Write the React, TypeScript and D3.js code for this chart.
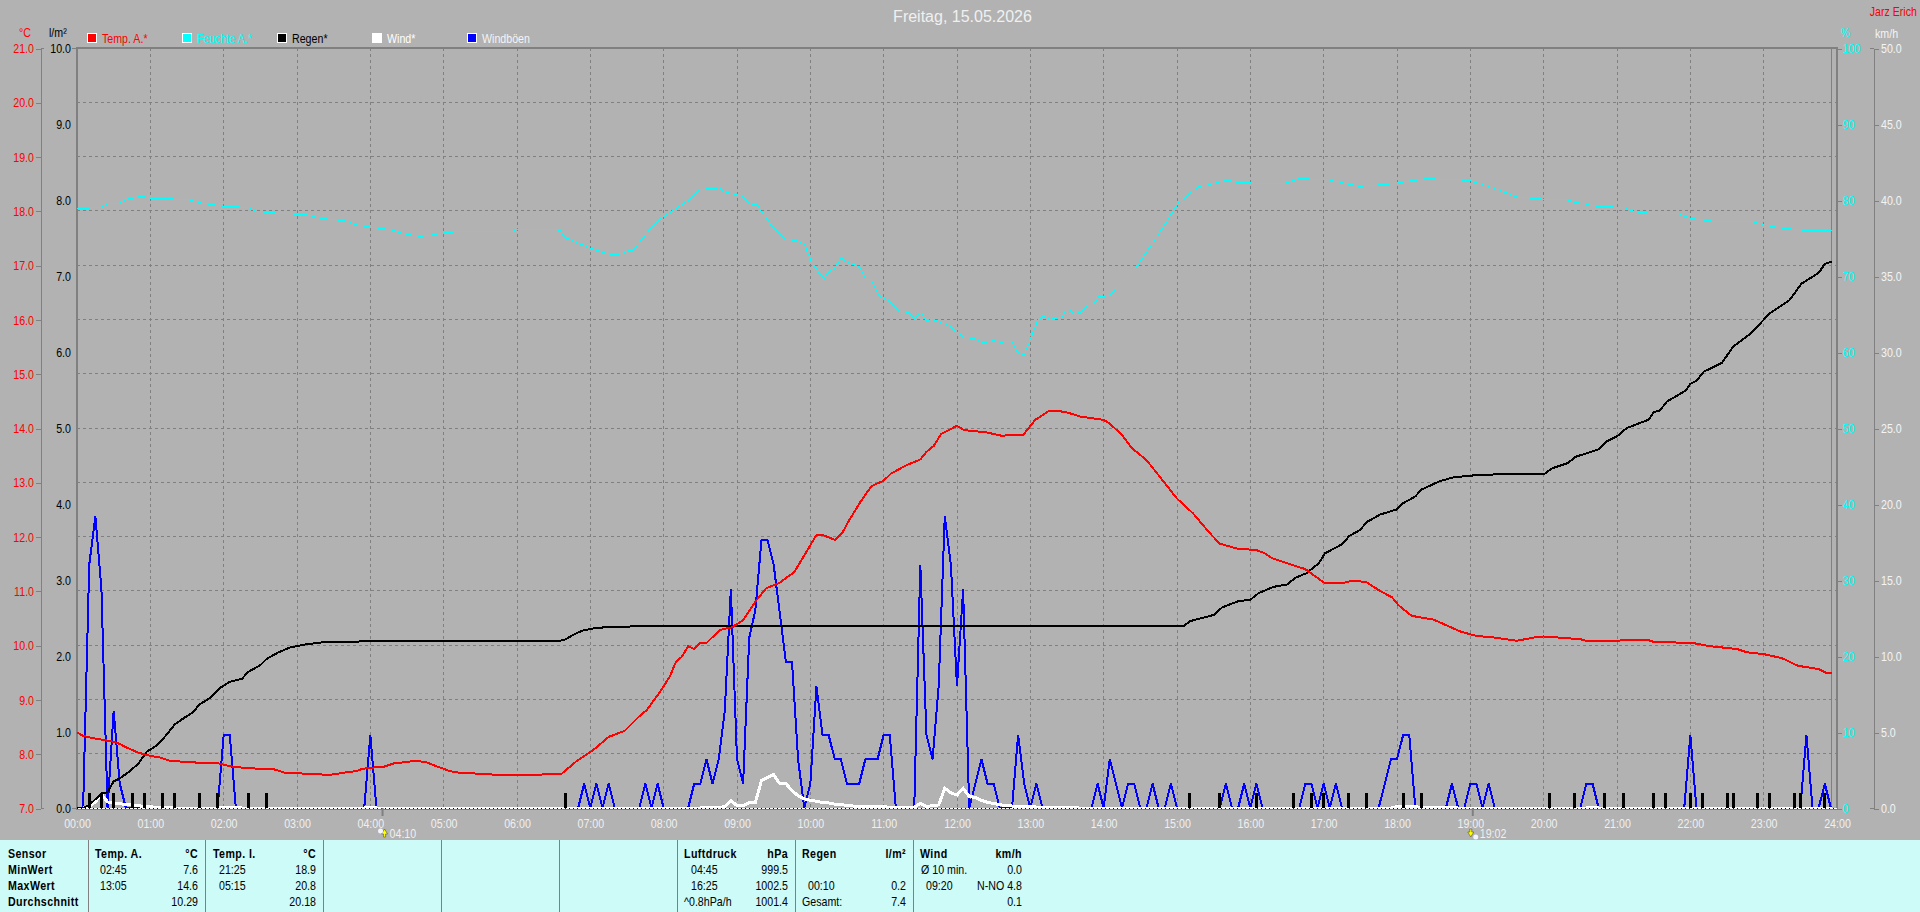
import * as d3 from "d3";
import { useEffect, useRef } from "react";

type Pt = [number, number];

const W = 1920;
const H = 912;
const FONT = "'Liberation Sans', Arial, sans-serif";
const SQUEEZE = 0.82; // the reference font is tall and narrow

// every series: [minute of day, value]
const tempA: Pt[] = [
  [0, 8.39], [5, 8.33], [10, 8.3], [20, 8.26], [30, 8.22], [35, 8.18], [40, 8.12], [50, 8.02], [60, 7.96], [68, 7.93],
  [76, 7.87], [88, 7.85], [103, 7.83], [116, 7.82], [125, 7.77], [140, 7.73], [160, 7.72], [170, 7.65], [189, 7.63],
  [207, 7.61], [221, 7.66], [229, 7.68], [233, 7.72], [240, 7.74], [251, 7.76], [259, 7.82], [270, 7.85], [278, 7.87],
  [286, 7.84], [294, 7.77], [305, 7.68], [313, 7.65], [330, 7.63], [345, 7.61], [396, 7.62], [408, 7.85], [423, 8.08],
  [435, 8.31], [448, 8.42], [461, 8.71], [466, 8.8], [477, 9.14], [485, 9.42], [490, 9.69], [495, 9.79], [500, 9.98],
  [505, 9.93], [510, 10.04], [515, 10.04], [526, 10.28], [536, 10.33], [545, 10.46], [556, 10.83], [564, 11.05],
  [575, 11.15], [587, 11.35], [596, 11.69], [605, 12.03], [610, 12.03], [620, 11.94], [626, 12.06], [631, 12.27],
  [641, 12.64], [650, 12.93], [660, 13.03], [666, 13.16], [679, 13.32], [690, 13.42], [695, 13.56], [701, 13.67],
  [707, 13.89], [720, 14.04], [726, 13.96], [744, 13.92], [756, 13.86], [774, 13.87], [784, 14.15], [795, 14.31],
  [804, 14.31], [811, 14.28], [821, 14.21], [840, 14.15], [845, 14.08], [855, 13.87], [863, 13.63], [875, 13.41],
  [886, 13.1], [900, 12.7], [913, 12.43], [927, 12.06], [935, 11.87], [949, 11.78], [965, 11.75], [971, 11.7],
  [978, 11.6], [990, 11.51], [1005, 11.4], [1021, 11.14], [1035, 11.14], [1044, 11.19], [1055, 11.16], [1066, 11.0],
  [1076, 10.88], [1081, 10.74], [1092, 10.54], [1110, 10.47], [1132, 10.25], [1145, 10.17], [1160, 10.14],
  [1178, 10.08], [1192, 10.14], [1200, 10.16], [1230, 10.11], [1235, 10.08], [1286, 10.09], [1290, 10.06],
  [1322, 10.04], [1336, 9.98], [1358, 9.93], [1366, 9.87], [1381, 9.83], [1395, 9.76], [1408, 9.62], [1425, 9.56],
  [1431, 9.49], [1436, 9.49],
];

const humidity: Pt[] = [
  [0, 78.9], [20, 79.0], [25, 79.5], [35, 79.6], [40, 80.1], [54, 80.5], [60, 80.2], [72, 80.2], [92, 80.0], [102, 79.6],
  [119, 79.2], [141, 79.0], [146, 78.5], [154, 78.4], [169, 78.2], [187, 78.1], [199, 77.6], [222, 77.2], [226, 76.8],
  [241, 76.4], [257, 76.1], [266, 75.6], [281, 75.2], [291, 75.4], [302, 75.7], [314, 75.9], [358, 75.9], [359, 76.1],
  [395, 76.05], [399, 75.1], [419, 73.7], [437, 72.8], [445, 72.9], [451, 73.3], [455, 73.4], [467, 75.8], [478, 77.6],
  [500, 79.9], [510, 81.4], [525, 81.6], [531, 81.0], [545, 80.5], [551, 79.3], [556, 79.5], [560, 78.5], [570, 76.3],
  [580, 74.8], [588, 74.7], [595, 74.2], [601, 71.8], [611, 69.6], [615, 70.6], [620, 71.0], [625, 72.4], [631, 71.8],
  [640, 71.2], [646, 69.5], [650, 69.5], [656, 67.5], [665, 66.6], [672, 65.4], [680, 65.2], [685, 64.4], [691, 65.2],
  [695, 64.1], [700, 64.3], [706, 63.9], [712, 63.6], [726, 61.9], [734, 61.8], [741, 61.2], [750, 61.5], [756, 61.3],
  [765, 61.4], [770, 59.9], [775, 59.6], [782, 62.5], [786, 64.2], [791, 64.7], [796, 64.3], [806, 64.6], [810, 65.7],
  [816, 65.1], [822, 65.2], [826, 66.1], [831, 66.1], [836, 67.3], [845, 67.4], [851, 68.6], [865, 70.8], [881, 74.5],
  [901, 79.6], [917, 81.7], [941, 82.6], [950, 82.3], [986, 82.1], [1000, 82.8], [1023, 82.7], [1049, 81.8],
  [1074, 82.1], [1104, 82.8], [1139, 82.6], [1164, 81.3], [1178, 80.4], [1200, 80.1], [1217, 80.1], [1226, 79.7],
  [1243, 79.2], [1267, 79.0], [1271, 78.6], [1282, 78.3], [1310, 78.2], [1320, 77.6], [1339, 77.2], [1373, 77.1],
  [1380, 76.7], [1396, 76.3], [1414, 76.0], [1436, 76.0],
];

const rainTotal: Pt[] = [
  [0, 0], [5, 0], [10, 0.04], [20, 0.19], [25, 0.21], [30, 0.35], [35, 0.39], [42, 0.47], [50, 0.58], [57, 0.74],
  [65, 0.82], [72, 0.94], [80, 1.1], [88, 1.19], [95, 1.26], [100, 1.36], [109, 1.45], [117, 1.58], [125, 1.66],
  [135, 1.7], [140, 1.79], [150, 1.88], [155, 1.96], [165, 2.05], [174, 2.11], [186, 2.15], [201, 2.18], [220, 2.19],
  [395, 2.2], [400, 2.22], [405, 2.27], [410, 2.31], [415, 2.34], [425, 2.37], [440, 2.385], [460, 2.39], [905, 2.39],
  [911, 2.46], [930, 2.54], [937, 2.64], [950, 2.72], [960, 2.74], [967, 2.83], [979, 2.91], [990, 2.94], [997, 3.03],
  [1006, 3.09], [1016, 3.22], [1021, 3.35], [1035, 3.47], [1041, 3.58], [1050, 3.66], [1055, 3.76], [1066, 3.86],
  [1080, 3.93], [1085, 4.01], [1095, 4.1], [1100, 4.19], [1115, 4.3], [1126, 4.35], [1145, 4.38], [1162, 4.39],
  [1201, 4.4], [1207, 4.47], [1220, 4.54], [1226, 4.62], [1245, 4.72], [1251, 4.82], [1260, 4.89], [1268, 5.0],
  [1286, 5.11], [1290, 5.21], [1295, 5.23], [1301, 5.35], [1316, 5.49], [1320, 5.58], [1325, 5.62], [1331, 5.74],
  [1346, 5.86], [1355, 6.07], [1370, 6.25], [1378, 6.39], [1385, 6.51], [1401, 6.68], [1411, 6.9], [1425, 7.04],
  [1430, 7.16], [1436, 7.19],
];

// minutes with one rain gauge tip, 0.2 l/m² each
const rainTips = [
  10, 20, 30, 45, 55, 70, 80, 100, 115, 140, 155, 400, 910, 935, 965, 995, 1010, 1020, 1040, 1055, 1085, 1100, 1205,
  1225, 1250, 1265, 1290, 1300, 1320, 1330, 1350, 1355, 1375, 1385, 1405, 1410, 1430,
];
const rainTipValue = 0.2;

const wind: Pt[] = [
  [0, 0], [5, 0], [10, 0.1], [15, 0.4], [20, 0.9], [25, 0.4], [30, 0.3], [35, 0.3], [40, 0.2], [45, 0.2], [50, 0.15],
  [55, 0.1], [65, 0.05], [80, 0], [115, 0], [120, 0.05], [130, 0.05], [135, 0], [235, 0], [240, 0.05], [245, 0],
  [510, 0], [515, 0.05], [520, 0.05], [525, 0], [530, 0.1], [535, 0.5], [540, 0.15], [545, 0.15], [550, 0.35],
  [555, 0.35], [560, 1.8], [565, 2.0], [570, 2.2], [575, 1.6], [580, 1.6], [585, 1.15], [590, 0.8], [595, 0.6],
  [600, 0.5], [605, 0.45], [610, 0.35], [615, 0.33], [620, 0.25], [625, 0.22], [630, 0.18], [635, 0.13], [640, 0.11],
  [645, 0.1], [670, 0.05], [685, 0.05], [690, 0.3], [695, 0.1], [700, 0.15], [705, 0.2], [710, 1.3], [715, 1.0],
  [720, 0.85], [725, 1.3], [730, 0.75], [735, 0.7], [740, 0.5], [745, 0.37], [750, 0.3], [755, 0.22], [760, 0.15],
  [765, 0.13], [770, 0.1], [780, 0.08], [790, 0.05], [810, 0.03], [820, 0], [1075, 0], [1080, 0.1], [1095, 0.1],
  [1100, 0], [1105, 0.05], [1125, 0.05], [1130, 0], [1235, 0], [1240, 0.05], [1245, 0], [1436, 0],
];

const gusts: Pt[] = [
  [0, 0], [5, 0], [10, 16], [15, 19.2], [20, 14.4], [25, 0], [30, 6.4], [35, 1.6], [40, 0], [115, 0], [120, 4.8],
  [125, 4.8], [130, 0], [235, 0], [240, 4.8], [245, 0], [410, 0], [415, 1.6], [420, 0], [425, 1.6], [430, 0], [435, 1.6],
  [440, 0], [460, 0], [465, 1.6], [470, 0], [475, 1.6], [480, 0], [500, 0], [505, 1.6], [510, 1.6], [515, 3.2],
  [520, 1.6], [525, 3.2], [530, 6.4], [535, 14.4], [540, 3.2], [545, 1.6], [550, 11.2], [555, 13], [560, 17.6],
  [565, 17.6], [570, 16], [575, 12.8], [580, 9.6], [585, 9.6], [590, 3.2], [595, 0], [600, 1.6], [605, 8], [610, 4.8],
  [615, 4.8], [620, 3.2], [625, 3.2], [630, 1.6], [640, 1.6], [645, 3.2], [655, 3.2], [660, 4.8], [665, 4.8], [670, 0],
  [685, 0], [690, 16], [695, 4.8], [700, 3.2], [705, 8], [710, 19.2], [715, 16], [720, 8], [725, 14.4], [730, 0],
  [735, 1.6], [740, 3.2], [745, 1.6], [750, 1.6], [755, 0], [765, 0], [770, 4.8], [775, 1.6], [780, 0], [785, 1.6],
  [790, 0], [830, 0], [835, 1.6], [840, 0], [845, 3.2], [850, 1.6], [855, 0], [860, 1.6], [865, 1.6], [870, 0], [875, 0],
  [880, 1.6], [885, 0], [890, 0], [895, 1.6], [900, 0], [935, 0], [940, 1.6], [945, 0], [950, 0], [955, 1.6], [960, 0],
  [965, 1.6], [970, 0], [1000, 0], [1005, 1.6], [1010, 1.6], [1015, 0], [1020, 1.6], [1025, 0], [1030, 1.6], [1035, 0],
  [1065, 0], [1070, 1.6], [1075, 3.2], [1080, 3.2], [1085, 4.8], [1090, 4.8], [1095, 0], [1120, 0], [1125, 1.6],
  [1130, 0], [1135, 0], [1140, 1.6], [1145, 1.6], [1150, 0], [1155, 1.6], [1160, 0], [1230, 0], [1235, 1.6], [1240, 1.6],
  [1245, 0], [1315, 0], [1320, 4.8], [1325, 0], [1410, 0], [1415, 4.8], [1420, 0], [1425, 0], [1430, 1.6], [1435, 0],
];

const legendNames = ["Temp. A.*", "Feuchte A.*", "Regen*", "Wind*", "Windböen"];
const legendColors = ["#ff0000", "#00ffff", "#000000", "#ffffff", "#0000ff"];

const tempTicks = d3.range(7, 22);
const rainAxisTicks = d3.range(0, 11);
const humidityTicks = d3.range(0, 101, 10);
const windTicks = d3.range(0, 51, 5);
const hourTicks = d3.range(0, 25);

const sunrise = { minute: 250, label: "04:10" };
const sunset = { minute: 1142, label: "19:02" };
const lastSample = 1436;

// table below the chart: one block per sensor
const tableHeadRows = ["Sensor", "MinWert", "MaxWert", "Durchschnitt"];
const tableBlocks = [
  { left: 95, right: 198, timeX: 100, head: ["Temp. A.", "°C"], times: ["02:45", "13:05", ""], values: ["7.6", "14.6", "10.29"] },
  { left: 213, right: 316, timeX: 219, head: ["Temp. I.", "°C"], times: ["21:25", "05:15", ""], values: ["18.9", "20.8", "20.18"] },
  { left: 684, right: 788, timeX: 691, head: ["Luftdruck", "hPa"], times: ["04:45", "16:25", ""], values: ["999.5", "1002.5", "1001.4"] },
  { left: 802, right: 906, timeX: 808, head: ["Regen", "l/m²"], times: ["", "00:10", ""], values: ["", "0.2", "7.4"] },
  { left: 920, right: 1022, timeX: 926, head: ["Wind", "km/h"], times: ["", "09:20", ""], values: ["0.0", "N-NO 4.8", "0.1"] },
];
const tableExtras = [
  { x: 684, row: 2, text: "^0.8hPa/h" },
  { x: 802, row: 2, text: "Gesamt:" },
  { x: 921, row: 0, text: "Ø 10 min." },
];
const tableDividers = [88, 205, 323, 441, 559, 677, 795, 913];

export default function App() {
  const ref = useRef<SVGSVGElement>(null);

  useEffect(() => {
    if (!ref.current) return;
    const svg = d3.select(ref.current);
    svg.selectAll("*").remove();

    const margin = { top: 48, left: 77, right: 1837, bottom: 808 };
    const x = d3.scaleLinear().domain([0, 1440]).range([margin.left, margin.right]);
    const yTemp = d3.scaleLinear().domain([7, 21]).range([margin.bottom, margin.top]);
    const yRain = d3.scaleLinear().domain([0, 10]).range([margin.bottom, margin.top]);
    const yHum = d3.scaleLinear().domain([0, 100]).range([margin.bottom, margin.top]);
    const yWind = d3.scaleLinear().domain([0, 50]).range([margin.bottom, margin.top]);

    const grey = "#808080";
    svg.append("rect").attr("width", W).attr("height", H).attr("fill", "#b2b2b2");

    const text = (px: number, py: number, s: string, color: string, anchor = "start", size = 13, weight = "normal") =>
      svg
        .append("text")
        .attr("x", px)
        .attr("y", py)
        .attr("fill", color)
        .attr("text-anchor", anchor)
        .attr("font-family", FONT)
        .attr("font-size", size)
        .attr("font-weight", weight)
        .text(s);

    // title + corner name
    text(962.5, 22, "Freitag, 15.05.2026", "#f0f0f0", "middle", 16).attr("class", "wide");
    text(1917, 16, "Jarz Erich", "#ff0000", "end");

    // grid
    const grid = svg.append("g").attr("stroke", grey).attr("stroke-dasharray", "3 3").attr("shape-rendering", "crispEdges");
    hourTicks.slice(1, 24).forEach((h) => {
      grid.append("line").attr("x1", x(h * 60)).attr("x2", x(h * 60)).attr("y1", margin.top).attr("y2", margin.bottom);
    });
    tempTicks.slice(1, 14).forEach((t) => {
      grid.append("line").attr("x1", margin.left).attr("x2", margin.right).attr("y1", yTemp(t)).attr("y2", yTemp(t));
    });

    // frame
    const frame = svg.append("g").attr("stroke", grey).attr("shape-rendering", "crispEdges");
    frame.append("line").attr("x1", margin.left - 1).attr("x2", margin.right + 1).attr("y1", margin.top).attr("y2", margin.top).attr("stroke-width", 2);
    frame.append("line").attr("x1", margin.left).attr("x2", margin.left).attr("y1", margin.top).attr("y2", margin.bottom + 2).attr("stroke-width", 2);
    frame.append("line").attr("x1", margin.right).attr("x2", margin.right).attr("y1", margin.top).attr("y2", margin.bottom + 2).attr("stroke-width", 2);
    frame.append("line").attr("x1", margin.left).attr("x2", margin.right).attr("y1", margin.bottom + 1).attr("y2", margin.bottom + 1).attr("stroke-width", 2);
    frame.append("line").attr("x1", x(lastSample) - 0.5).attr("x2", x(lastSample) - 0.5).attr("y1", margin.top).attr("y2", margin.bottom);

    // series
    svg
      .append("clipPath")
      .attr("id", "plot-clip")
      .append("rect")
      .attr("x", margin.left)
      .attr("y", margin.top)
      .attr("width", margin.right - margin.left)
      .attr("height", margin.bottom - margin.top + 1);
    const plot = svg.append("g").attr("clip-path", "url(#plot-clip)").attr("fill", "none").attr("shape-rendering", "crispEdges");

    const lineOf = (y: d3.ScaleLinear<number, number>) =>
      d3
        .line<Pt>()
        .x((d) => x(d[0]))
        .y((d) => y(d[1]));

    plot.append("path").attr("d", lineOf(yWind)(gusts)).attr("stroke", "#0000ff").attr("stroke-width", 2);
    plot.append("path").attr("d", lineOf(yWind)(wind)).attr("stroke", "#ffffff").attr("stroke-width", 3);

    plot
      .selectAll("rect.tip")
      .data(rainTips)
      .join("rect")
      .attr("class", "tip")
      .attr("x", (d) => x(d) - 1.5)
      .attr("width", 3)
      .attr("y", yRain(rainTipValue))
      .attr("height", yRain(0) - yRain(rainTipValue))
      .attr("fill", "#000000");

    plot.append("path").attr("d", lineOf(yRain)(rainTotal)).attr("stroke", "#000000").attr("stroke-width", 2);
    plot.append("path").attr("d", lineOf(yHum)(humidity)).attr("stroke", "#00ffff").attr("stroke-width", 1);
    plot.append("path").attr("d", lineOf(yTemp)(tempA)).attr("stroke", "#ff0000").attr("stroke-width", 2);

    // zero line: white with black dots
    const zero = svg.append("g").attr("shape-rendering", "crispEdges");
    zero.append("line").attr("x1", margin.left).attr("x2", margin.right).attr("y1", margin.bottom).attr("y2", margin.bottom).attr("stroke", "#ffffff");
    zero
      .append("line")
      .attr("x1", margin.left)
      .attr("x2", margin.right)
      .attr("y1", margin.bottom)
      .attr("y2", margin.bottom)
      .attr("stroke", "#000000")
      .attr("stroke-dasharray", "1 3");

    // axes
    const styleAxis = (g: d3.Selection<SVGGElement, unknown, null, undefined>, color: string) => {
      g.attr("font-family", FONT).attr("font-size", 13);
      g.selectAll(".domain, line").attr("stroke", grey).attr("shape-rendering", "crispEdges");
      g.selectAll("text").attr("fill", color);
    };

    const tempAxis = svg
      .append("g")
      .attr("transform", "translate(41,0.5)")
      .call(d3.axisLeft(yTemp).tickValues(tempTicks).tickFormat(d3.format(".1f")).tickSize(5).tickPadding(2).tickSizeOuter(0));
    styleAxis(tempAxis, "#ff0000");

    const rainAxis = svg
      .append("g")
      .attr("transform", `translate(${margin.left},0.5)`)
      .call(d3.axisLeft(yRain).tickValues(rainAxisTicks).tickFormat(d3.format(".1f")).tickSize(0).tickPadding(6).tickSizeOuter(0));
    styleAxis(rainAxis, "#000000");
    rainAxis.select(".domain").remove();
    [yRain(10), yRain(0)].forEach((py) => {
      frame.append("line").attr("x1", margin.left - 5).attr("x2", margin.left).attr("y1", py).attr("y2", py);
    });
    [yTemp(21), yTemp(7)].forEach((py) => {
      frame.append("line").attr("x1", 41).attr("x2", 44).attr("y1", py).attr("y2", py);
    });

    const humAxis = svg
      .append("g")
      .attr("transform", `translate(${margin.right},0.5)`)
      .call(d3.axisRight(yHum).tickValues(humidityTicks).tickSize(5).tickPadding(1).tickSizeOuter(0));
    styleAxis(humAxis, "#00ffff");
    humAxis.select(".domain").remove();

    const windAxis = svg
      .append("g")
      .attr("transform", "translate(1874,0.5)")
      .call(d3.axisRight(yWind).tickValues(windTicks).tickFormat(d3.format(".1f")).tickSize(5).tickPadding(2).tickSizeOuter(0));
    styleAxis(windAxis, "#f4f4f4");
    [yWind(50), yWind(0)].forEach((py) => {
      frame.append("line").attr("x1", 1870).attr("x2", 1874).attr("y1", py).attr("y2", py);
    });

    const timeAxis = svg
      .append("g")
      .attr("transform", `translate(0,${margin.bottom})`)
      .call(
        d3
          .axisBottom(x)
          .tickValues(hourTicks.map((h) => h * 60))
          .tickFormat((d) => `${String(+d / 60).padStart(2, "0")}:00`)
          .tickSize(0)
          .tickPadding(11),
      );
    styleAxis(timeAxis, "#f0f0f0");
    timeAxis.select(".domain").remove();

    text(31, 37, "°C", "#ff0000", "end");
    text(49, 37, "l/m²", "#000000");
    text(1841, 37, "%", "#00ffff");
    text(1875, 38, "km/h", "#f4f4f4");

    // legend
    legendNames.forEach((name, i) => {
      const lx = 87 + i * 95;
      svg
        .append("rect")
        .attr("x", lx + 0.5)
        .attr("y", 33.5)
        .attr("width", 9)
        .attr("height", 9)
        .attr("fill", legendColors[i])
        .attr("stroke", "#ffffff")
        .attr("shape-rendering", "crispEdges");
      text(lx + 15, 43, name, legendColors[i] === "#0000ff" ? "#f4f4f4" : legendColors[i]);
    });

    // sunrise / sunset marks
    [sunrise, sunset].forEach((s) => {
      const sx = x(s.minute);
      svg.append("rect").attr("x", sx - 1).attr("y", margin.bottom).attr("width", 2).attr("height", 8).attr("fill", grey);
      const up = s === sunrise;
      svg
        .append("path")
        .attr("d", up ? `M${sx + 2},829 l-3,5 h2 v3 h2 v-3 h2 z` : `M${sx - 2},837 l-3,-5 h2 v-3 h2 v3 h2 z`)
        .attr("fill", "#ffff00")
        .attr("stroke", "#404040")
        .attr("stroke-width", 0.5);
      svg.append("circle").attr("cx", up ? sx - 2 : sx + 3).attr("cy", up ? 831 : 837).attr("r", 2.5).attr("fill", "#f4f4ff");
      text(sx + 7, 838, s.label, "#f0f0f0");
    });

    // bottom table
    const tableTop = 840;
    const rowY = [858, 874, 890, 906];
    svg.append("rect").attr("x", 0).attr("y", tableTop).attr("width", W).attr("height", H - tableTop).attr("fill", "#ccfbf8");
    tableDividers.forEach((dx) => {
      svg.append("line").attr("x1", dx).attr("x2", dx).attr("y1", tableTop).attr("y2", H).attr("stroke", grey).attr("shape-rendering", "crispEdges");
    });
    const bold = (px: number, py: number, s: string, anchor = "start") => text(px, py, s, "#000000", anchor, 13, "bold").attr("letter-spacing", 0.5);
    tableHeadRows.forEach((s, i) => bold(8, rowY[i], s));
    tableBlocks.forEach((b) => {
      bold(b.left, rowY[0], b.head[0]);
      bold(b.right, rowY[0], b.head[1], "end");
      b.times.forEach((t, i) => t && text(b.timeX, rowY[i + 1], t, "#000000"));
      b.values.forEach((v, i) => v && text(b.right, rowY[i + 1], v, "#000000", "end"));
    });
    tableExtras.forEach((e) => text(e.x, rowY[e.row + 1], e.text, "#000000"));

    // narrow every label around its own anchor
    svg.selectAll<SVGTextElement, unknown>("text:not(.wide)").attr("transform", function () {
      const tx = +(this.getAttribute("x") ?? 0);
      return `translate(${tx},0) scale(${SQUEEZE},1) translate(${-tx},0)`;
    });
  }, []);

  return <svg ref={ref} width={W} height={H} style={{ position: "absolute", left: 0, top: 0, display: "block" }} />;
}
